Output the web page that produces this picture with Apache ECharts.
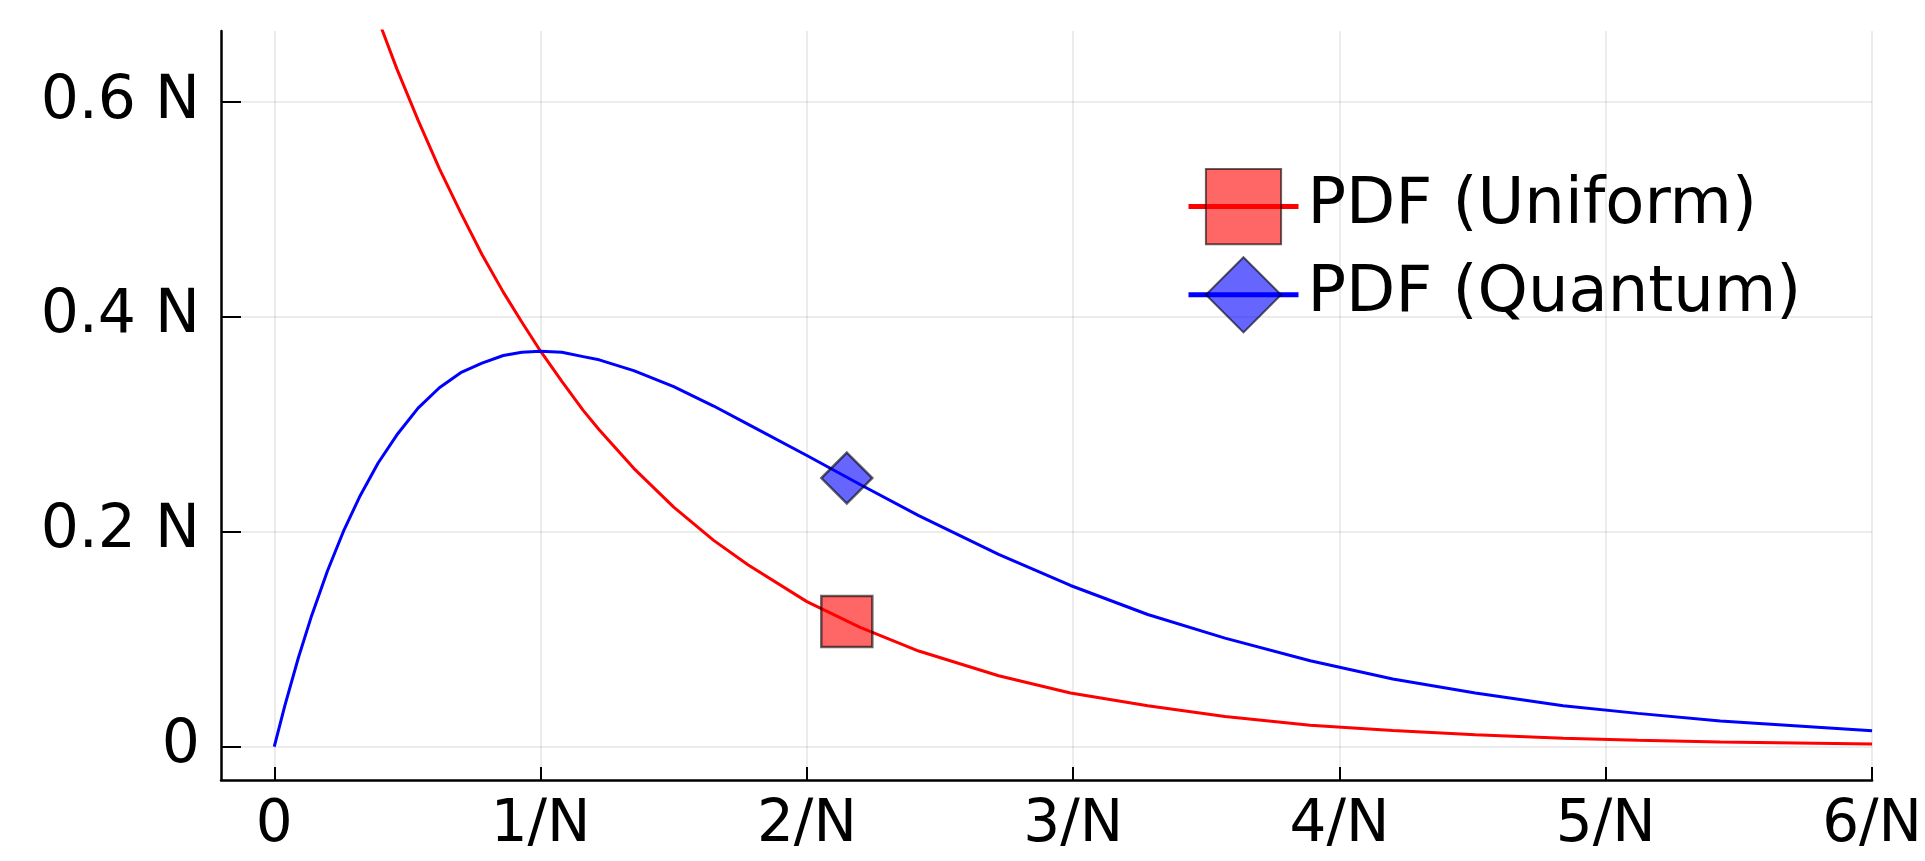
<!DOCTYPE html>
<html><head><meta charset="utf-8">
<script src="https://cdn.jsdelivr.net/npm/echarts@6/dist/echarts.min.js"></script>
<style>html,body{margin:0;padding:0;background:#fff}#c{width:1925px;height:861px}</style>
</head><body><div id="c"></div>
<script>
// sample positions along the x axis (in units of 1/N)
const xValues = [0, 0.04, 0.09, 0.14, 0.2, 0.26, 0.32, 0.39, 0.46, 0.54, 0.62, 0.7, 0.78, 0.86, 0.93, 1.0, 1.08, 1.16, 1.22, 1.35, 1.5, 1.65, 1.78, 2.0, 2.2, 2.42, 2.72, 2.99, 3.28, 3.57, 3.89, 4.2, 4.51, 4.84, 5.12, 5.43, 6.0];
// PDF (Uniform) values
const uniformPdf = [1.0, 0.961, 0.914, 0.869, 0.819, 0.771, 0.726, 0.677, 0.631, 0.583, 0.538, 0.497, 0.458, 0.423, 0.395, 0.368, 0.340, 0.313, 0.295, 0.259, 0.223, 0.192, 0.169, 0.135, 0.111, 0.089, 0.066, 0.050, 0.038, 0.028, 0.020, 0.015, 0.011, 0.0079, 0.0060, 0.0044, 0.0025];
// PDF (Quantum) values
const quantumPdf = [0, 0.0384, 0.0823, 0.1217, 0.1637, 0.2005, 0.2323, 0.264, 0.290, 0.315, 0.334, 0.348, 0.357, 0.364, 0.367, 0.368, 0.367, 0.363, 0.360, 0.350, 0.335, 0.317, 0.300, 0.271, 0.244, 0.215, 0.179, 0.150, 0.123, 0.101, 0.080, 0.063, 0.050, 0.038, 0.031, 0.024, 0.0149];
// single markers
const markerX = [2.15];
const uniformMarkerY = [0.1165];
const quantumMarkerY = [0.25];
// ticks
const xTickValues = [0, 1, 2, 3, 4, 5, 6];
const xTickLabels = ['0', '1/N', '2/N', '3/N', '4/N', '5/N', '6/N'];
const yTickValues = [0, 0.2, 0.4, 0.6];
const yTickLabels = ['0', '0.2 N', '0.4 N', '0.6 N'];
const seriesNames = ['PDF (Uniform)', 'PDF (Quantum)'];

function labelFor(values, labels) {
  return function (v) {
    for (let i = 0; i < values.length; i++) {
      if (Math.abs(values[i] - v) < 1e-6) return labels[i];
    }
    return '';
  };
}

const FONT = 'DejaVu Sans';
const uniformLine = xValues.map((x, i) => [x, uniformPdf[i]]);
const quantumLine = xValues.map((x, i) => [x, quantumPdf[i]]);
const uniformPts = markerX.map((x, i) => [x, uniformMarkerY[i]]);
const quantumPts = markerX.map((x, i) => [x, quantumMarkerY[i]]);

const redFill = 'rgba(255,0,0,0.6)';
const blueFill = 'rgba(0,0,255,0.6)';
const markBorder = 'rgba(0,0,0,0.6)';
const gridLine = { show: true, lineStyle: { color: 'rgba(0,0,0,0.1)', width: 1.5 } };

const chart = echarts.init(document.getElementById('c'), null, { renderer: 'canvas' });
chart.setOption({
  animation: false,
  backgroundColor: '#ffffff',
  grid: { left: 221, right: 44, top: 31, bottom: 81, containLabel: false },
  xAxis: {
    type: 'value', min: -0.2, max: 6,
    axisLine: { show: true, onZero: false, lineStyle: { color: '#000', width: 2.5 } },
    axisTick: { show: true, inside: true, length: 13, customValues: xTickValues, lineStyle: { color: '#000', width: 2 } },
    axisLabel: { customValues: xTickValues, formatter: labelFor(xTickValues, xTickLabels), margin: 17,
      fontFamily: FONT, fontSize: 58, color: '#000' },
    splitLine: gridLine
  },
  yAxis: {
    type: 'value', min: -0.031, max: 0.666,
    axisLine: { show: true, onZero: false, lineStyle: { color: '#000', width: 2.5 } },
    axisTick: { show: true, inside: true, length: 20, customValues: yTickValues, lineStyle: { color: '#000', width: 2 } },
    axisLabel: { customValues: yTickValues, formatter: labelFor(yTickValues, yTickLabels), margin: 21,
      fontFamily: FONT, fontSize: 60, color: '#000' },
    splitLine: gridLine
  },
  legend: {
    orient: 'vertical', left: 1186, top: 168, padding: 0,
    itemWidth: 110, itemHeight: 94, itemGap: 11,
    data: seriesNames,
    textStyle: { fontFamily: FONT, fontSize: 64, color: '#000', padding: [0, 0, 0, 4] },
    lineStyle: { width: 5 }
  },
  series: [
    { name: seriesNames[0], type: 'line', data: uniformLine, showSymbol: false, symbol: 'rect', symbolSize: 51,
      lineStyle: { color: '#ff0000', width: 3 },
      itemStyle: { color: redFill, borderColor: markBorder, borderWidth: 2.5 }, z: 2 },
    { name: seriesNames[0], type: 'scatter', data: uniformPts, symbol: 'rect', symbolSize: 51,
      itemStyle: { color: redFill, borderColor: markBorder, borderWidth: 2.5, opacity: 1 }, z: 3 },
    { name: seriesNames[1], type: 'line', data: quantumLine, showSymbol: false, symbol: 'diamond', symbolSize: 51,
      lineStyle: { color: '#0000ff', width: 3 },
      itemStyle: { color: blueFill, borderColor: markBorder, borderWidth: 2.5 }, z: 4 },
    { name: seriesNames[1], type: 'scatter', data: quantumPts, symbol: 'diamond', symbolSize: 51,
      itemStyle: { color: blueFill, borderColor: markBorder, borderWidth: 2.5, opacity: 1 }, z: 5 }
  ]
});
</script></body></html>
